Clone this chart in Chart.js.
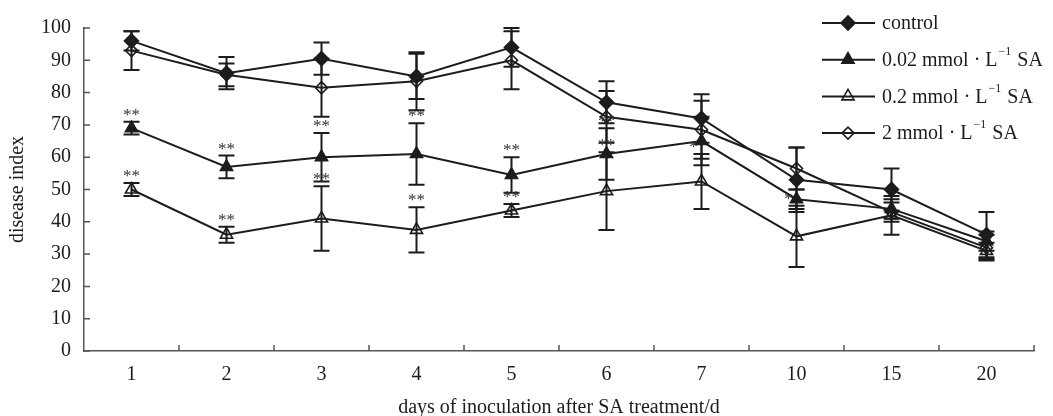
<!DOCTYPE html>
<html>
<head>
<meta charset="utf-8">
<script src="https://cdn.jsdelivr.net/npm/chart.js@4"></script>
<style>
    html, body { margin: 0; padding: 0; background: #fff; }
    #wrap { width: 1053px; height: 416px; }
</style>
</head>
<body>
<div id="wrap"><canvas id="chart"></canvas></div>
<script>
const days = ['1', '2', '3', '4', '5', '6', '7', '10', '15', '20'];

const control = [96, 86, 90.5, 85, 94, 77, 72, 53, 50, 36];
const controlErr = [3, 5, 5, 7, 6, 6.5, 7.5, 10, 6.5, 7];

const sa002 = [69, 57, 60, 61, 54.5, 61, 65, 47, 44, 34];
const sa002Err = [2, 3.5, 7.5, 9.5, 5.5, 8, 7.5, 3, 3, 3];
const sa002Sig = ['**', '**', '**', '**', '**', '**', '', '', '', ''];

const sa02 = [50, 36, 41, 37.5, 43.5, 49.5, 52.5, 35.5, 42, 31];
const sa02Err = [2, 2.5, 10, 7, 2, 12, 8.5, 9.5, 6, 2.5];
const sa02Sig = ['**', '**', '**', '**', '**', '**', '*', '*', '', ''];

const sa2 = [93, 85.5, 81.5, 83.5, 90, 72.5, 68.5, 56.5, 43, 32];
const sa2Err = [6, 3.5, 9, 9, 9, 8, 9, 6.5, 3, 4];

const names = ['control', '0.02 mmol · L⁻¹ SA', '0.2 mmol · L⁻¹ SA', '2 mmol · L⁻¹ SA'];

const ink = '#1c1c1c';
const serif = '"Liberation Serif", "Times New Roman", serif';

function series(label, data, err, sig, style, filled, radius) {
    return {
        label: label,
        data: data,
        err: err,
        sig: sig,
        borderColor: ink,
        borderWidth: 2,
        pointStyle: style,
        pointRadius: radius,
        pointBorderWidth: 1.6,
        pointBorderColor: ink,
        pointBackgroundColor: filled ? ink : 'rgba(0,0,0,0)',
        tension: 0,
        fill: false
    };
}

// error bars under the markers, significance stars above them
const errorBars = {
    id: 'errorBars',
    beforeDatasetsDraw(chart) {
        const ctx = chart.ctx;
        const y = chart.scales.y;
        ctx.save();
        ctx.strokeStyle = ink;
        ctx.lineWidth = 2;
        chart.data.datasets.forEach((ds, i) => {
            let meta = chart.getDatasetMeta(i);
            meta.data.forEach((pt, j) => {
                let top = y.getPixelForValue(ds.data[j] + ds.err[j]);
                let bot = y.getPixelForValue(ds.data[j] - ds.err[j]);
                ctx.beginPath();
                ctx.moveTo(pt.x, top); ctx.lineTo(pt.x, bot);
                ctx.moveTo(pt.x - 8, top); ctx.lineTo(pt.x + 8, top);
                ctx.moveTo(pt.x - 8, bot); ctx.lineTo(pt.x + 8, bot);
                ctx.stroke();
            });
        });
        ctx.restore();
    },
    afterDatasetsDraw(chart) {
        const ctx = chart.ctx;
        const y = chart.scales.y;
        ctx.save();
        ctx.fillStyle = '#333';
        ctx.font = '17px ' + serif;
        ctx.textAlign = 'center';
        ctx.textBaseline = 'alphabetic';
        chart.data.datasets.forEach((ds, i) => {
            if (!ds.sig) return;
            let meta = chart.getDatasetMeta(i);
            meta.data.forEach((pt, j) => {
                let s = ds.sig[j];
                if (!s) return;
                let top = y.getPixelForValue(ds.data[j] + ds.err[j]);
                let dx = s.length == 1 ? -8 : 0;
                ctx.fillText(s, pt.x + dx, top - 2);
            });
        });
        ctx.restore();
    }
};

// inward tick marks on both axes
const innerTicks = {
    id: 'innerTicks',
    afterDraw(chart) {
        const ctx = chart.ctx;
        const x = chart.scales.x;
        const y = chart.scales.y;
        const area = chart.chartArea;
        ctx.save();
        ctx.strokeStyle = '#555';
        ctx.lineWidth = 1.5;
        ctx.beginPath();
        y.ticks.forEach(t => {
            let py = y.getPixelForValue(t.value);
            ctx.moveTo(area.left, py); ctx.lineTo(area.left + 6, py);
        });
        let step = x.getPixelForValue(1) - x.getPixelForValue(0);
        for (let i = 1; i <= days.length; i++) {
            let px = x.getPixelForValue(i) - step / 2;
            ctx.moveTo(px, area.bottom); ctx.lineTo(px, area.bottom - 6);
        }
        ctx.stroke();
        ctx.restore();
    }
};

// legend: line with marker, label with superscript
const lineLegend = {
    id: 'lineLegend',
    afterDraw(chart) {
        const ctx = chart.ctx;
        const left = chart.chartArea.right - 212;
        ctx.save();
        chart.data.datasets.forEach((ds, i) => {
            let cy = 23 + i * 36.7;
            ctx.strokeStyle = ink;
            ctx.lineWidth = 2;
            ctx.beginPath();
            ctx.moveTo(left, cy); ctx.lineTo(left + 53, cy);
            ctx.stroke();
            ctx.fillStyle = ds.pointBackgroundColor;
            ctx.strokeStyle = ink;
            ctx.lineWidth = ds.pointBorderWidth;
            Chart.helpers.drawPoint(ctx, {
                pointStyle: ds.pointStyle,
                radius: ds.pointRadius,
                borderWidth: ds.pointBorderWidth
            }, left + 26, cy);

            let parts = ds.label.split('⁻¹');
            let tx = left + 60;
            ctx.fillStyle = ink;
            ctx.textBaseline = 'middle';
            ctx.textAlign = 'left';
            ctx.font = '20px ' + serif;
            ctx.fillText(parts[0], tx, cy + 1);
            if (parts.length > 1) {
                tx += ctx.measureText(parts[0]).width + 1;
                ctx.font = '12px ' + serif;
                ctx.fillText('−1', tx, cy - 8);
                tx += ctx.measureText('−1').width + 1;
                ctx.font = '20px ' + serif;
                ctx.fillText(parts[1], tx, cy + 1);
            }
        });
        ctx.restore();
    }
};

new Chart(document.getElementById('chart'), {
    type: 'line',
    data: {
        labels: days,
        datasets: [
            series(names[0], control, controlErr, null, 'rectRot', true, 7),
            series(names[1], sa002, sa002Err, sa002Sig, 'triangle', true, 7),
            series(names[2], sa02, sa02Err, sa02Sig, 'triangle', false, 7),
            series(names[3], sa2, sa2Err, null, 'rectRot', false, 6)
        ]
    },
    options: {
        responsive: true,
        maintainAspectRatio: false,
        animation: false,
        layout: { padding: { top: 28, right: 19, left: 0, bottom: 0 } },
        plugins: {
            legend: { display: false },
            tooltip: { enabled: false }
        },
        scales: {
            x: {
                offset: true,
                grid: { display: false },
                border: { display: true, color: '#555', width: 1.5 },
                ticks: { color: ink, font: { family: serif, size: 20 }, padding: 4 },
                title: {
                    display: true,
                    text: 'days of inoculation after SA treatment/d',
                    color: ink,
                    font: { family: serif, size: 20 },
                    padding: { top: 6, bottom: -4 }
                },
                afterFit: s => { s.height = 65; }
            },
            y: {
                min: 0,
                max: 100,
                grid: { display: false },
                border: { display: true, color: '#555', width: 1.5 },
                ticks: { stepSize: 10, color: ink, font: { family: serif, size: 20 }, padding: 5 },
                title: {
                    display: true,
                    text: 'disease index',
                    color: ink,
                    font: { family: serif, size: 20 },
                    padding: { top: 6, bottom: 0 }
                },
                afterFit: s => { s.width = 84; }
            }
        }
    },
    plugins: [errorBars, innerTicks, lineLegend]
});
</script>
</body>
</html>
